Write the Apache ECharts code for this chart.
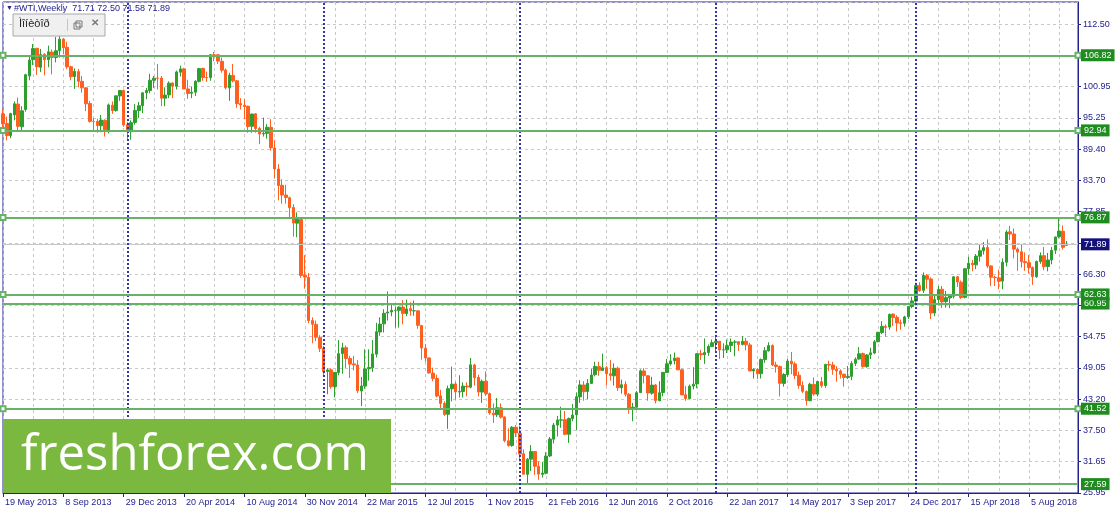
<!DOCTYPE html>
<html><head><meta charset="utf-8">
<script src="https://cdn.jsdelivr.net/npm/echarts@6/dist/echarts.min.js"></script>
<style>html,body{margin:0;padding:0;background:#fff;}#c{width:1116px;height:514px;}</style>
</head><body><div id="c"></div>
<script>
// weekly bars [open, high, low, close], first bar week of 19 May 2013
const bars2013 = [
[96.0,96.9,93.5,94.15],[94.2,95.5,91.1,91.97],[92.0,96.2,91.5,96.03],[95.8,98.3,94.8,97.85],[97.8,99.0,93.0,93.69],
[93.6,97.4,93.0,96.56],[96.8,103.4,96.4,103.22],[103.0,106.5,102.2,105.95],[106.0,108.9,105.0,108.05],[108.1,108.2,103.2,104.70],
[104.6,108.0,103.7,106.94],[107.0,107.2,103.1,106.00],[106.0,108.6,104.6,107.46],[107.4,107.9,103.3,106.42],[106.4,110.2,105.5,107.65],
[107.7,110.4,106.4,109.8],[109.8,110.0,107.0,108.21],[108.3,109.3,104.3,104.67],[104.7,104.9,102.2,102.87],[102.9,104.4,100.6,103.84],
[103.8,104.3,100.9,102.02],[102.0,103.0,99.9,100.81],[100.8,100.9,96.5,97.85],[97.9,98.4,94.4,94.61],[94.6,95.2,93.0,94.60],
[94.6,95.1,92.5,93.84],[93.8,95.8,92.6,94.84],[94.8,95.0,91.8,92.72],[92.7,97.9,92.4,97.65],[97.6,98.3,96.0,96.60],
[96.6,99.4,96.4,99.32],[99.3,100.4,98.4,100.32],[100.3,100.5,93.6,93.96]
];
const bars2014 = [
[94.0,94.5,91.2,92.72],[92.7,94.8,91.2,94.37],[94.4,97.8,94.0,96.64],[96.6,98.2,95.2,97.49],[97.5,100.0,96.1,99.88],
[99.9,100.8,98.7,100.30],[100.3,103.4,99.8,102.20],[102.2,103.0,100.8,102.59],[102.6,105.2,100.5,102.58],[102.6,103.0,97.4,98.89],
[98.9,100.9,97.4,99.46],[99.5,102.0,98.9,101.67],[101.7,101.8,98.9,101.14],[101.1,104.0,100.5,103.74],[103.7,104.9,102.9,104.30],
[104.3,104.5,100.6,100.60],[100.6,102.3,98.8,99.76],[99.8,101.0,98.9,99.99],[100.0,102.2,99.3,102.02],[102.0,104.5,101.8,104.35],
[104.4,104.5,102.1,102.71],[102.7,103.8,101.9,102.66],[102.7,107.0,102.1,106.91],[106.9,107.4,105.7,106.9],[106.9,107.1,105.2,105.74],
[105.7,106.4,103.6,104.06],[104.1,104.4,100.5,100.83],[100.8,103.6,98.4,103.13],[103.1,105.2,101.8,102.09],[102.1,102.2,97.1,97.88],
[97.9,98.9,96.8,97.65],[97.6,98.7,95.0,97.35],[97.4,97.5,92.5,93.65],[93.7,96.0,92.5,95.96],[96.0,96.1,92.5,93.29],
[93.3,93.6,90.4,92.27],[92.3,95.3,91.8,92.41],[92.4,94.1,91.4,93.54],[93.5,95.0,89.2,89.74],[89.7,91.1,84.1,85.82],
[85.8,86.7,80.0,82.75],[82.8,83.9,79.4,81.01],[81.0,82.9,79.4,80.54],[80.5,80.7,76.7,78.65],[78.7,79.3,73.3,75.82],
[75.8,77.8,73.2,76.51],[76.5,76.9,65.7,66.15],[66.2,69.9,63.7,65.84],[65.8,66.6,57.3,57.81],[57.8,58.4,53.6,57.13],
[57.1,57.8,54.0,54.73],[54.7,55.1,52.0,52.69]
];
const bars2015 = [
[52.7,53.1,47.5,48.36],[48.4,49.0,44.2,48.69],[48.7,49.0,45.2,45.59],[45.6,48.3,43.6,48.24],[48.2,54.2,47.7,51.69],
[51.7,53.7,48.0,52.78],[52.8,53.2,49.0,50.81],[50.8,51.3,47.2,49.76],[49.8,51.3,48.6,49.61],[49.6,50.5,44.4,44.84],
[44.8,47.4,42.0,45.72],[45.7,52.5,45.2,48.87],[48.9,52.5,46.7,49.14],[49.1,54.2,48.3,51.64],[51.6,57.4,51.0,55.74],
[55.7,58.4,55.0,57.15],[57.2,59.9,55.6,59.15],[59.2,63.2,57.8,59.39],[59.4,61.0,58.6,59.69],[59.7,60.4,56.5,59.72],
[59.7,60.4,56.5,60.30],[60.3,61.6,57.1,59.13],[59.1,61.7,58.6,59.96],[60.0,61.2,58.7,59.61],[59.6,61.5,58.7,59.63],
[59.6,59.7,56.3,56.93],[56.9,57.0,50.6,52.74],[52.7,53.5,50.2,50.89],[50.9,51.0,48.0,48.14],[48.1,49.1,46.6,47.12],
[47.1,47.8,43.6,43.87],[43.9,45.0,41.4,42.50],[42.5,42.9,40.2,40.45],[40.5,45.8,37.8,45.22],[45.2,49.3,42.9,46.05],
[46.1,46.5,43.2,44.63],[44.6,47.7,43.6,44.68],[44.7,46.4,43.6,45.70],[45.7,46.4,43.8,45.54],[45.5,50.9,45.3,49.63],
[49.6,49.8,45.8,47.26],[47.3,47.8,43.8,44.60],[44.6,46.9,42.6,46.59],[46.6,48.4,43.9,44.29],[44.3,44.5,40.4,40.74],
[40.7,42.5,38.9,40.39],[40.4,43.5,40.0,41.71],[41.7,42.5,39.7,39.97],[40.0,40.1,35.3,35.62],[35.6,37.9,34.5,34.73],
[34.7,38.3,34.5,38.10],[38.1,38.5,36.3,37.04]
];
const bars2016 = [
[37.0,38.4,32.1,33.16],[33.2,34.0,29.9,29.42],[29.4,32.4,27.59,32.19],[32.2,34.8,30.0,33.62],[33.6,33.7,29.3,30.89],
[30.9,31.8,28.4,29.44],[29.4,31.7,28.8,29.64],[29.6,33.5,29.4,32.78],[32.8,36.3,32.6,35.92],[35.9,38.9,35.1,38.50],
[38.5,40.2,36.4,39.44],[39.4,41.9,38.0,39.46],[39.5,41.1,36.6,36.79],[36.8,39.9,35.2,39.72],[39.7,42.4,39.2,40.36],
[40.4,44.5,37.6,43.73],[43.7,46.8,42.6,45.92],[45.9,46.6,43.0,44.66],[44.7,47.0,43.3,46.21],[46.2,48.9,46.1,47.75],
[47.8,50.2,47.5,49.33],[49.3,50.2,47.6,48.62],[48.6,51.7,48.5,49.07],[49.1,49.4,45.8,47.98],[48.0,50.5,46.7,47.64],
[47.6,49.9,45.8,48.99],[49.0,49.3,44.8,45.41],[45.4,46.9,44.3,45.95],[46.0,46.6,43.8,44.19],[44.2,44.4,40.6,41.60],
[41.6,42.6,39.2,41.80],[41.8,44.8,41.4,44.49],[44.5,48.8,44.4,48.52],[48.5,49.0,46.2,47.64],[47.6,47.7,43.0,44.44],
[44.4,47.4,44.1,45.88],[45.9,46.1,42.5,43.03],[43.0,46.6,42.9,44.48],[44.5,48.3,43.8,48.24],[48.2,50.7,48.2,49.81],
[49.8,51.6,49.5,50.35],[50.4,51.9,49.7,50.85],[50.9,51.0,48.7,48.70],[48.7,48.9,44.1,44.07],[44.1,45.7,43.0,43.41],
[43.4,46.0,43.3,45.69],[45.7,49.2,45.1,46.06],[46.1,51.8,45.3,51.68],[51.7,52.4,50.5,51.50],[51.5,54.5,49.8,51.90],
[51.9,53.4,51.3,53.02],[53.0,54.3,52.9,53.72]
];
const bars2017 = [
[53.7,55.2,51.8,53.99],[54.0,54.0,50.7,52.37],[52.4,53.6,50.9,52.42],[52.4,54.3,51.8,53.17],[53.2,54.5,52.0,53.83],
[53.8,54.2,51.2,53.86],[53.9,54.0,52.2,53.40],[53.4,54.9,53.2,53.99],[54.0,54.6,52.3,53.33],[53.3,53.7,48.6,48.49],
[48.5,49.0,47.1,48.78],[48.8,49.0,47.0,47.97],[48.0,50.8,47.1,50.60],[50.6,52.9,50.0,52.24],[52.2,53.8,52.1,53.18],
[53.2,53.4,49.4,49.62],[49.6,50.2,48.2,49.33],[49.3,49.5,43.8,46.22],[46.2,48.1,45.6,47.84],[47.8,50.7,47.4,50.33],
[50.3,52.0,47.9,49.80],[49.8,50.2,47.0,47.66],[47.7,48.4,45.2,45.83],[45.8,46.6,44.4,44.74],[44.7,44.9,42.1,43.01],
[43.0,46.3,42.9,46.04],[46.0,47.3,43.9,44.23],[44.2,46.6,43.8,46.54],[46.5,47.4,45.4,45.77],[45.8,49.8,45.4,49.71],
[49.7,50.4,48.5,49.58],[49.6,50.2,47.8,48.82],[48.8,49.4,46.5,48.51],[48.5,48.8,47.1,47.87],[47.9,48.0,45.6,47.29],
[47.3,49.4,47.0,47.48],[47.5,50.3,46.8,49.89],[49.9,51.0,49.4,50.66],[50.7,52.9,50.6,51.67],[51.7,51.9,49.1,49.29],
[49.3,51.6,49.1,51.45],[51.5,52.8,50.7,51.84],[51.8,54.2,51.6,53.90],[53.9,55.7,53.8,55.64],[55.6,57.7,55.3,56.74],
[56.7,57.1,54.8,56.55],[56.6,59.1,56.1,58.95],[59.0,59.1,56.8,58.36],[58.4,58.8,55.8,57.36],[57.4,58.0,56.1,57.30],
[57.3,58.7,56.7,58.47],[58.5,60.5,58.1,60.42],[60.4,62.2,60.1,61.44]
];
const bars2018 = [
[61.4,64.8,61.1,64.30],[64.3,64.9,63.1,63.37],[63.4,66.7,62.9,66.14],[66.1,66.4,63.7,65.45],[65.5,65.8,58.1,59.20],
[59.2,62.5,58.6,61.68],[61.7,64.2,60.6,63.55],[63.6,64.2,60.1,61.25],[61.3,63.3,60.2,62.04],[62.0,62.5,60.1,62.34],
[62.3,66.0,61.9,65.88],[65.9,66.0,64.0,64.94],[64.9,65.2,61.8,62.06],[62.1,67.5,61.9,67.39],[67.4,69.6,66.3,68.38],
[68.4,69.0,66.9,68.10],[68.1,70.1,67.3,69.72],[69.7,71.9,68.7,70.70],[70.7,72.3,70.0,71.28],[71.3,72.8,67.5,67.88],
[67.9,68.0,64.2,65.81],[65.8,66.1,64.2,65.74],[65.7,67.2,63.6,65.06],[65.1,69.3,63.6,68.58],[68.6,74.5,67.8,74.15],
[74.2,75.3,72.7,73.80],[73.8,74.8,69.3,71.01],[71.0,71.3,67.0,70.46],[70.5,72.0,67.6,68.69],[68.7,70.4,67.0,68.49],
[68.5,69.9,66.5,67.63],[67.6,67.8,64.4,65.91],[65.9,68.9,65.7,68.72],[68.7,70.4,68.3,69.80],[69.8,71.4,67.1,67.75],
[67.8,70.3,66.9,68.99],[69.0,71.4,68.2,70.78],[70.8,73.3,70.1,73.25],[73.3,76.87,73.0,74.34],[74.3,75.4,70.9,71.34],
[71.71,72.50,71.58,71.89]
];
const firstWeek = Date.UTC(2013, 4, 19);
const emptySlotsRight = 3;
const levelsWithHandles = [106.82, 92.94, 76.87, 62.63, 41.52];
const levelsPlain = [60.95, 27.59];
const bidPrice = 71.89;
const yTickLabels = ['25.95','31.65','37.50','43.20','49.05','54.75','60.45','66.30','72.00','77.85','83.70','89.40','95.25','100.95','106.65','112.50'];
const headerText = '#WTI,Weekly  71.71 72.50 71.58 71.89';
const windowTitle = 'Ìîíèòîð';
const logoText = 'freshforex.com';

const bars = [].concat(bars2013, bars2014, bars2015, bars2016, bars2017, bars2018);
const MONTHS = ['Jan','Feb','Mar','Apr','May','Jun','Jul','Aug','Sep','Oct','Nov','Dec'];
const weeks = [];
for (let i = 0; i < bars.length + emptySlotsRight; i++) {
  const d = new Date(firstWeek + i * 7 * 86400000);
  weeks.push(d.getUTCDate() + ' ' + MONTHS[d.getUTCMonth()] + ' ' + d.getUTCFullYear());
}
const yearStarts = [];
for (let i = 1; i < bars.length; i++) {
  const a = new Date(firstWeek + (i - 1) * 7 * 86400000).getUTCFullYear();
  const b = new Date(firstWeek + i * 7 * 86400000).getUTCFullYear();
  if (a !== b) yearStarts.push(i);
}
const candleData = bars.map(b => [b[0], b[3], b[2], b[1]]);

const NAVY = '#23238e';
const GRIDC = '#c8c8c8';
const LEVELC = '#66b266';
const FONT = '"Liberation Sans", Arial, sans-serif';

function levelItem(p, bg) {
  return {
    yAxis: p,
    label: { show: true, position: 'end', distance: 3, formatter: p.toFixed(2), color: '#fff',
      backgroundColor: bg, padding: [1, 3, 1, 3], fontSize: 9, fontFamily: FONT, lineHeight: 10 }
  };
}
const plainMarks = [];
levelsPlain.forEach(p => plainMarks.push(Object.assign(levelItem(p, '#1e8c1e'), { lineStyle: { color: LEVELC, width: 2, type: 'solid' } })));
plainMarks.push(Object.assign(levelItem(bidPrice, '#12127a'), { lineStyle: { color: '#c8c8c8', width: 1, type: 'solid' } }));
yearStarts.forEach(i => plainMarks.push({ xAxis: i, lineStyle: { color: '#3434b0', width: 2, type: [2, 2] }, label: { show: false } }));
const handleMarks = levelsWithHandles.map(p => Object.assign(levelItem(p, '#1e8c1e'), { lineStyle: { color: LEVELC, width: 2, type: 'solid' } }));

const chart = echarts.init(document.getElementById('c'), null, { renderer: 'canvas' });
chart.setOption({
  animation: false,
  backgroundColor: '#ffffff',
  grid: { left: 3, right: 38, top: 2, bottom: 21, show: true, borderColor: NAVY, borderWidth: 1, backgroundColor: 'transparent' },
  xAxis: {
    type: 'category', data: weeks, boundaryGap: false,
    axisLine: { lineStyle: { color: NAVY, width: 1 } },
    axisTick: { show: true, interval: 15, length: 4, lineStyle: { color: NAVY } },
    axisLabel: { interval: 15, align: 'left', margin: 5, color: NAVY, fontSize: 9, fontFamily: FONT, padding: [0, 0, 0, 2] },
    splitLine: { show: true, interval: 7, lineStyle: { color: GRIDC, type: [3, 3], width: 1 } }
  },
  yAxis: {
    type: 'value', position: 'right', min: 25.95, max: 116.66, interval: 5.775, scale: true,
    axisLine: { show: true, lineStyle: { color: NAVY } },
    axisTick: { show: true, length: 3, lineStyle: { color: NAVY } },
    axisLabel: { margin: 5, color: NAVY, fontSize: 9, fontFamily: FONT, showMaxLabel: false,
      formatter: v => { const t = yTickLabels.find(s => Math.abs(parseFloat(s) - v) < 0.2); return t || ''; } },
    splitLine: { show: true, lineStyle: { color: GRIDC, type: [3, 3], width: 1 } }
  },
  series: [{
    type: 'candlestick', data: candleData, barWidth: 3, z: 3,
    itemStyle: { color: '#2e9f2e', color0: '#ff5f1f', borderColor: '#2e9f2e', borderColor0: '#ff5f1f', borderWidth: 1 },
    markLine: { silent: true, animation: false, symbol: ['none', 'none'], data: plainMarks }
  }, {
    type: 'line', data: [], z: 2,
    markLine: { silent: true, animation: false, symbol: ['emptyRect', 'emptyRect'], symbolSize: 5, data: handleMarks }
  }],
  graphic: [
    { type: 'text', left: 6, top: 5, z: 100, style: { text: '▼', fill: NAVY, font: '7px ' + FONT } },
    { type: 'text', left: 14, top: 4, z: 100, style: { text: headerText, fill: NAVY, font: '9px ' + FONT } },
    { type: 'rect', z: 100, shape: { x: 13, y: 14, width: 92, height: 22 }, style: { fill: '#f0f0f0', stroke: '#a8a8a8', lineWidth: 1 } },
    { type: 'text', z: 101, left: 19, top: 18, style: { text: windowTitle, fill: '#222', font: '11px ' + FONT } },
    { type: 'rect', z: 101, shape: { x: 67, y: 19, width: 1, height: 12 }, style: { fill: '#e8c090' } },
    { type: 'rect', z: 101, shape: { x: 74, y: 23, width: 6, height: 6 }, style: { fill: 'none', stroke: '#777', lineWidth: 1 } },
    { type: 'rect', z: 101, shape: { x: 76, y: 21, width: 6, height: 6 }, style: { fill: 'none', stroke: '#777', lineWidth: 1 } },
    { type: 'text', z: 101, left: 91, top: 18, style: { text: '✕', fill: '#777', font: 'bold 10px ' + FONT } },
    { type: 'rect', z: 100, shape: { x: 3, y: 419, width: 388, height: 74 }, style: { fill: '#7ab83f' } },
    { type: 'text', z: 101, x: 21, y: 456, style: { text: logoText, fill: '#ffffff', font: '49px "Open Sans", sans-serif', textVerticalAlign: 'middle' } }
  ]
});
</script></body></html>
